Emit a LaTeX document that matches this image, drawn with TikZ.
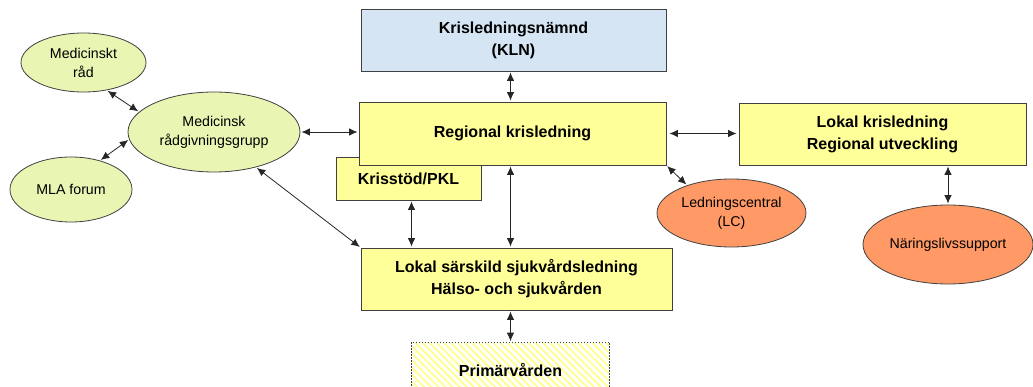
\documentclass[tikz,border=0pt]{standalone}
\usepackage{fontspec}
\setmainfont{Liberation Sans}
\usetikzlibrary{arrows.meta,shapes.geometric,patterns.meta}
\definecolor{boxyellow}{HTML}{FFFF99}
\definecolor{boxblue}{HTML}{D5E5F3}
\definecolor{ellgreen}{HTML}{E8F5B3}
\definecolor{ellorange}{HTML}{FF9966}
\definecolor{edgegray}{HTML}{404040}
\definecolor{hatchyellow}{HTML}{FFFF80}
\tikzset{
  box/.style={draw=edgegray, line width=0.8pt, rectangle, align=center,
    font=\fontsize{16}{22}\selectfont\bfseries, inner sep=0pt},
  ell/.style={draw=edgegray, line width=0.8pt, ellipse, align=center,
    font=\fontsize{14.2}{19}\selectfont, inner sep=0pt},
  link/.style={draw=black!85, line width=0.8pt, {Latex[length=8.5pt,width=7.5pt]}-{Latex[length=8.5pt,width=7.5pt]}, shorten <=1pt, shorten >=1pt}
}
\begin{document}
\begin{tikzpicture}[x=1pt,y=-1pt]
\useasboundingbox (0,0) rectangle (1033,387);
% boxes
\node[box, fill=boxblue, minimum width=305pt, minimum height=62pt] (KLN) at (513.5,40) {Krisledningsnämnd\\(KLN)};
\node[box, fill=boxyellow, minimum width=145pt, minimum height=43pt] (KS) at (408.5,178.5) {\raisebox{-4pt}{Krisstöd/PKL}};
\node[box, fill=boxyellow, minimum width=307pt, minimum height=63pt] (RK) at (512.5,133.5) {Regional krisledning};
\node[box, fill=boxyellow, minimum width=311pt, minimum height=62pt] (LS) at (516.5,279) {Lokal särskild sjukvårdsledning\\Hälso- och sjukvården};
\node[box, draw=none, minimum width=197pt, minimum height=54pt,
  pattern={Lines[angle=-45,distance=5pt,line width=1.6pt]}, pattern color=hatchyellow] (PV) at (510.5,370) {};
\draw[edgegray, line width=0.8pt, dash pattern=on 1.5pt off 1.5pt] (PV.south west) rectangle (PV.north east);
\node[font=\fontsize{16}{22}\selectfont\bfseries] (PVT) at (PV.center) {\raisebox{-1pt}{Primärvården}};
\node[box, fill=boxyellow, minimum width=287pt, minimum height=62pt] (LK) at (882.5,134) {Lokal krisledning\\Regional utveckling};
% ellipses
\node[ell, fill=ellorange, minimum width=149pt, minimum height=68pt] (LC) at (731.5,213) {Ledningscentral\\(LC)};
\node[ell, fill=ellorange, minimum width=170pt, minimum height=79pt] (NS) at (948,244.5) {Näringslivssupport};
\node[ell, fill=ellgreen, minimum width=125pt, minimum height=59pt] (MR) at (83.5,62.5) {Medicinskt\\råd};
\node[ell, fill=ellgreen, minimum width=122pt, minimum height=65pt] (MLA) at (71,189.5) {MLA forum};
\node[ell, fill=ellgreen, minimum width=172pt, minimum height=80pt] (MRG) at (214,132) {Medicinsk\\rådgivningsgrupp};
% connectors
\draw[link] ([xshift=-3pt]KLN.south) -- ([xshift=-3pt]KLN.south |- RK.north);
\draw[link] ([xshift=3pt]KS.south) -- ([xshift=3pt]KS.south |- LS.north);
\draw[link] ([xshift=-2pt]RK.south) -- ([xshift=-2pt]RK.south |- LS.north);
\draw[link] (PV.north |- LS.south) -- (PV.north);
\draw[link] (MRG.east) -- (MRG.east -| RK.west);
\draw[link, shorten <=3pt, shorten >=2pt] (RK.east) -- (RK.east -| LK.west);
\draw[link] (RK.south east) -- (LC.148);
\draw[link] (MRG.-40) -- (LS.north west);
\draw[link] (MR.-50) -- (MRG.165);
\draw[link] (MLA.45) -- (MRG.185);
\draw[link] (NS.north |- LK.south) -- (NS.north);
\end{tikzpicture}
\end{document}
